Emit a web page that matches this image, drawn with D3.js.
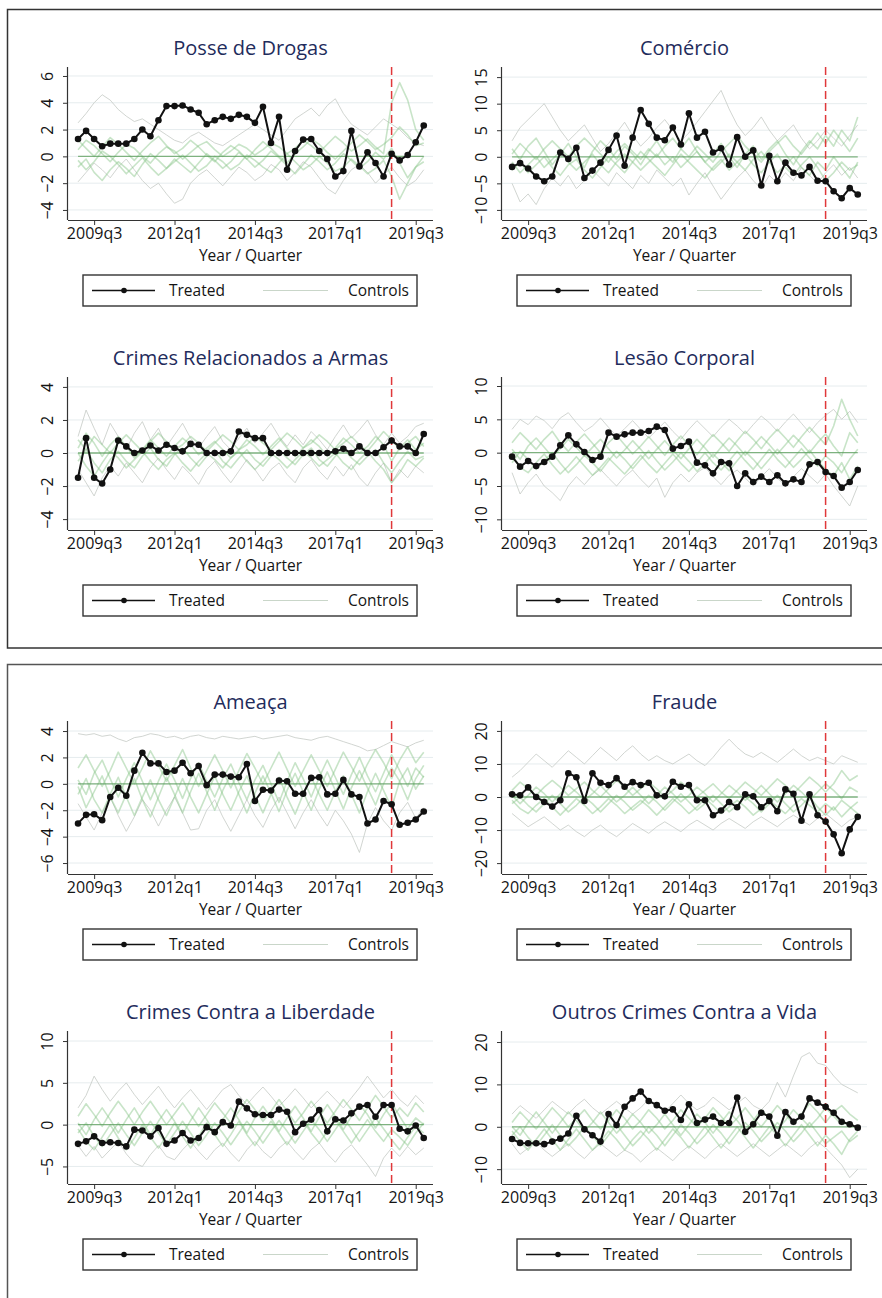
<!DOCTYPE html>
<html>
<head>
<meta charset="utf-8">
<script src="https://cdn.jsdelivr.net/npm/d3@7/dist/d3.min.js"></script>
<style>
  body { margin: 0; background: #fff; }
  svg { display: block; }
</style>
</head>
<body>
<script>
// quarters on the x axis
const quarters = [
  '2009q1','2009q2','2009q3','2009q4','2010q1','2010q2','2010q3','2010q4',
  '2011q1','2011q2','2011q3','2011q4','2012q1','2012q2','2012q3','2012q4',
  '2013q1','2013q2','2013q3','2013q4','2014q1','2014q2','2014q3','2014q4',
  '2015q1','2015q2','2015q3','2015q4','2016q1','2016q2','2016q3','2016q4',
  '2017q1','2017q2','2017q3','2017q4','2018q1','2018q2','2018q3','2018q4',
  '2019q1','2019q2','2019q3','2019q4'
];
const xTickLabels = ['2009q3', '2012q1', '2014q3', '2017q1', '2019q3'];
const treatmentQuarter = '2018q4';

const panelTitles = [
  'Posse de Drogas', 'Comércio',
  'Crimes Relacionados a Armas', 'Lesão Corporal',
  'Ameaça', 'Fraude',
  'Crimes Contra a Liberdade', 'Outros Crimes Contra a Vida'
];
const yTickValues = [
  [-4, -2, 0, 2, 4, 6], [-10, -5, 0, 5, 10, 15],
  [-4, -2, 0, 2, 4], [-10, -5, 0, 5, 10],
  [-6, -4, -2, 0, 2, 4], [-20, -10, 0, 10, 20],
  [-5, 0, 5, 10], [-10, 0, 10, 20]
];
const yDomains = [
  [-4.75, 6.67], [-11.9, 16.9],
  [-4.66, 4.6], [-11.6, 11.35],
  [-6.83, 4.76], [-23.3, 23],
  [-7.1, 11.2], [-13.5, 22.6]
];

// treated series
const treatedPosse = [1.3,1.9,1.3,0.75,0.95,0.95,0.95,1.3,2.0,1.5,2.7,3.75,3.75,3.8,3.5,3.25,2.4,2.7,2.95,2.8,3.1,2.95,2.5,3.7,1.0,2.95,-1.0,0.4,1.25,1.3,0.4,-0.2,-1.5,-1.1,1.9,-0.75,0.3,-0.5,-1.5,0.2,-0.3,0.1,1.05,2.3];
const treatedComercio = [-1.9,-1.2,-2.2,-3.7,-4.6,-3.7,0.8,-0.4,1.7,-4.0,-2.6,-1.1,1.3,4.0,-1.7,3.6,8.8,6.2,3.6,3.1,5.5,2.3,8.2,3.6,4.7,0.8,1.6,-1.5,3.7,0.0,1.2,-5.4,0.2,-4.6,-1.1,-3.0,-3.5,-1.9,-4.5,-4.6,-6.5,-7.8,-5.9,-7.1];
const treatedArmas = [-1.5,0.9,-1.5,-1.85,-1.0,0.75,0.4,0.0,0.15,0.45,0.15,0.5,0.3,0.1,0.55,0.5,0.0,0.0,0.0,0.1,1.3,1.1,0.9,0.9,0,0,0,0,0,0,0,0,0.1,0.25,0.0,0.4,0.0,0.0,0.35,0.75,0.4,0.4,0.0,1.15];
const treatedLesao = [-0.6,-2.1,-1.25,-2.0,-1.4,-0.6,1.1,2.6,1.25,0.1,-1.1,-0.6,3.0,2.4,2.75,3.0,3.0,3.25,3.9,3.4,0.6,1.0,1.65,-1.5,-1.9,-3.1,-1.4,-1.6,-5.0,-3.1,-4.4,-3.6,-4.4,-3.4,-4.6,-4.0,-4.4,-1.75,-1.4,-2.9,-3.5,-5.25,-4.4,-2.6];
const treatedAmeaca = [-3.0,-2.35,-2.3,-2.75,-1.0,-0.3,-0.9,1.0,2.35,1.55,1.55,0.9,1.0,1.6,0.8,1.35,-0.1,0.7,0.7,0.55,0.5,1.5,-1.3,-0.45,-0.5,0.25,0.2,-0.75,-0.75,0.45,0.5,-0.8,-0.75,0.3,-0.8,-1.0,-3.0,-2.7,-1.3,-1.55,-3.1,-2.95,-2.7,-2.1];
const treatedFraude = [0.8,0.5,2.9,0.0,-1.5,-2.9,-1.0,7.2,6.0,-1.2,7.2,4.3,3.6,5.7,3.1,4.5,3.6,4.3,0.5,0.2,4.6,3.1,3.6,-1.0,-1.0,-5.5,-4.1,-1.5,-3.1,0.8,0.2,-3.1,-1.2,-4.3,2.3,1.0,-7.2,0.8,-5.5,-7.4,-11.3,-17.0,-9.8,-6.0];
const treatedLiberdade = [-2.3,-2.0,-1.4,-2.2,-2.1,-2.2,-2.6,-0.6,-0.7,-1.4,-0.4,-2.3,-1.9,-1.0,-1.9,-1.6,-0.3,-0.9,0.3,-0.1,2.75,1.95,1.25,1.15,1.15,1.8,1.55,-0.9,0.1,0.6,1.75,-0.8,0.65,0.5,1.35,2.15,2.35,0.95,2.35,2.35,-0.5,-0.8,-0.1,-1.6];
const treatedVida = [-2.9,-3.8,-3.9,-3.9,-4.1,-3.5,-2.8,-1.6,2.6,-0.6,-2.0,-3.5,3.0,0.4,4.7,6.7,8.3,6.1,5.1,3.8,4.1,1.6,5.3,0.9,1.7,2.4,0.9,0.9,6.9,-1.2,0.6,3.3,2.4,-2.1,3.5,1.2,2.4,6.7,5.7,4.7,3.3,1.2,0.6,-0.2];

// control units (first two of each panel are drawn grey)
const controlsPosse = [
  [2.5,3.2,4.0,4.6,4.2,3.5,3.0,2.6,2.8,2.4,2.0,1.6,1.2,1.0,1.5,1.8,1.4,1.0,0.8,1.2,1.6,2.0,2.4,2.0,1.6,1.2,2.0,2.8,3.2,3.6,3.0,3.8,4.3,3.2,2.4,2.0,1.6,2.2,2.8,2.4,2.0,1.4,1.0,0.8],
  [-1.9,-1.2,-0.5,-1.0,-1.6,-0.8,-0.2,-1.0,-1.8,-2.4,-2.0,-2.8,-3.5,-3.2,-2.0,-1.4,-1.0,-1.6,-2.2,-1.5,-0.8,-1.2,-1.8,-1.4,-0.6,-1.0,-1.8,-1.2,-0.4,-0.8,-1.6,-2.4,-2.8,-1.8,-1.0,-0.6,-1.2,-2.0,-1.4,-0.8,-1.6,-2.2,-1.8,-1.0],
  [0.5,1.2,0.8,0.2,-0.4,0.3,0.9,0.6,0.0,-0.5,0.2,0.7,0.4,-0.2,0.3,0.8,1.1,0.5,0.0,0.4,0.9,0.6,0.1,0.5,1.0,0.7,0.2,0.6,1.2,0.8,0.3,0.9,1.5,1.0,0.4,0.8,1.3,0.7,0.2,4.0,5.5,4.2,2.0,1.2],
  [-0.8,-0.2,-1.2,-1.8,-1.0,-0.4,-0.9,-1.5,-0.6,0.2,-0.3,-0.9,-0.4,0.1,-0.5,-1.1,-0.7,0.0,-0.4,-1.0,-0.6,0.1,-0.3,-0.8,-1.2,-0.5,0.2,-0.4,-1.0,-0.6,0.0,-0.5,-1.1,-0.8,-0.2,-0.7,-1.3,-0.9,-0.3,-1.5,-3.2,-2.0,-0.8,-0.4],
  [1.2,0.6,0.0,0.7,1.4,0.9,0.3,-0.3,0.4,1.0,1.5,0.8,0.2,0.6,1.2,0.7,0.1,-0.4,0.3,0.8,0.4,-0.2,0.5,1.1,0.6,0.0,-0.5,0.2,0.7,1.3,0.9,0.3,-0.2,0.4,1.0,1.6,1.1,0.5,0.9,1.4,2.2,1.6,0.8,1.0],
  [-0.3,-1.0,-0.4,0.4,0.0,-0.6,-1.3,-0.7,-0.1,-0.8,-1.4,-0.9,-0.2,-0.7,-1.2,-0.5,0.2,-0.3,-0.9,-0.4,0.3,-0.2,-0.8,-0.3,0.4,-0.1,-0.7,-1.3,-0.6,0.1,-0.4,-1.0,-0.5,0.2,-0.3,-0.9,-0.4,0.3,-0.2,0.6,-0.5,-1.6,-0.8,0.0]
];
const controlsComercio = [
  [3.0,5.5,7.0,8.5,10.0,7.5,5.0,3.0,4.5,6.0,3.5,1.0,2.5,4.5,6.5,4.0,2.0,3.5,5.5,7.0,5.0,3.0,4.5,6.5,8.5,10.5,12.5,9.0,6.0,4.0,5.5,7.5,5.0,3.0,4.5,6.0,3.5,1.5,3.0,5.0,3.5,2.0,4.0,6.0],
  [-5.0,-8.5,-7.0,-9.0,-6.0,-4.0,-5.5,-3.5,-6.0,-4.5,-2.5,-4.0,-5.5,-3.0,-4.5,-6.0,-3.5,-5.0,-2.5,-4.0,-5.5,-4.0,-7.2,-5.0,-3.0,-5.5,-8.0,-6.0,-4.0,-2.5,-4.5,-6.0,-3.5,-5.0,-3.0,-4.5,-2.0,-3.5,-5.0,-3.0,-1.5,-3.5,-2.0,-4.0],
  [1.5,-0.5,2.0,3.5,1.0,-1.5,0.5,2.5,0.0,-2.0,1.0,3.0,1.5,-0.5,2.0,0.5,-1.5,1.0,3.0,0.5,-1.0,1.5,3.5,1.0,-1.0,0.5,2.5,0.0,-2.0,0.5,2.0,-0.5,1.5,3.0,0.5,-1.5,1.0,3.0,1.5,4.0,2.0,5.0,3.0,7.5],
  [-2.5,-1.0,-3.0,-1.5,0.0,-2.0,-3.5,-1.5,-0.5,-2.5,-4.0,-2.0,0.0,-1.5,-3.0,-1.0,1.0,-0.5,-2.0,-3.5,-1.5,0.5,-1.0,-2.5,-4.0,-2.0,-0.5,-2.5,-1.0,0.5,-1.5,-3.0,-1.0,0.5,-2.0,-3.5,-1.5,0.0,-2.0,-4.5,-3.0,-1.0,-2.5,-1.5],
  [0.5,2.5,1.0,-0.5,1.5,3.0,1.5,0.0,2.0,3.5,2.0,0.5,-1.0,1.0,2.5,1.0,-0.5,1.5,0.0,2.0,3.5,1.5,0.0,2.0,0.5,-1.0,1.0,2.5,4.0,2.0,0.5,-1.0,1.0,2.5,4.0,2.0,0.5,2.5,4.5,2.5,5.0,3.0,1.0,3.5],
  [-1.0,-3.0,-1.5,0.0,-2.0,-0.5,1.0,-1.0,-2.5,-1.0,0.5,-1.5,-3.0,-1.0,0.5,-1.0,-2.5,-1.0,0.5,-1.5,0.0,-2.0,-0.5,1.0,-1.0,-2.5,-1.0,0.5,-1.0,-2.5,-0.5,1.0,-1.0,-3.0,-1.5,0.0,-2.0,-3.5,-1.0,-2.5,0.0,-2.0,-4.0,-1.0]
];
const controlsArmas = [
  [1.0,2.6,1.5,0.5,1.8,1.0,0.2,1.2,1.9,0.8,1.5,0.4,1.1,1.8,0.9,0.3,1.0,1.6,0.7,0.2,0.9,1.5,0.6,1.2,1.8,1.0,0.4,1.1,0.5,1.3,0.8,0.2,1.0,1.7,0.9,1.4,2.0,1.1,0.5,1.2,0.6,1.0,1.6,1.8],
  [-1.0,-1.8,-2.6,-1.5,-0.8,-1.4,-0.6,-1.2,-1.8,-0.9,-0.3,-1.0,-1.6,-0.8,-1.3,-1.9,-1.0,-0.5,-1.2,-1.8,-1.1,-0.4,-1.0,-1.7,-1.0,-0.6,-1.3,-1.8,-0.9,-0.4,-1.1,-1.6,-0.8,-1.4,-0.7,-1.5,-2.0,-1.2,-0.6,-1.8,-1.0,-1.5,-0.8,-1.2],
  [0.3,1.2,0.6,-0.2,0.5,1.0,0.4,-0.3,0.2,0.8,0.3,-0.2,0.4,0.9,0.5,-0.1,0.3,0.7,0.2,-0.3,0.2,0.8,0.4,-0.1,0.4,0.9,0.3,-0.2,0.3,0.8,0.4,-0.2,0.3,0.9,0.5,0.0,0.4,1.0,0.5,-0.5,0.3,0.8,0.2,0.6],
  [-0.5,0.2,-0.6,-1.2,-0.4,0.1,-0.5,-0.9,-0.2,0.3,-0.4,-0.8,-0.1,0.3,-0.3,-0.8,-0.2,0.2,-0.5,-0.9,-0.3,0.2,-0.4,-0.8,-0.2,0.2,-0.3,-0.7,-0.1,0.3,-0.4,-0.8,-0.2,0.3,-0.3,-0.7,-0.2,0.2,-0.6,-1.2,-0.5,0.1,-0.4,-0.2],
  [0.8,0.2,1.0,0.5,0.0,0.6,1.1,0.6,0.1,0.7,1.2,0.7,0.2,0.5,1.0,0.6,0.1,0.6,1.1,0.7,0.2,0.5,1.0,0.6,0.2,0.7,1.2,0.8,0.3,0.6,1.1,0.7,0.2,0.6,1.0,0.5,0.1,0.7,1.3,0.8,0.2,0.6,1.0,0.4],
  [0.0,-0.8,-1.4,-0.6,0.1,-0.3,-0.9,-0.4,0.1,-0.5,-1.0,-0.4,0.0,-0.6,-1.1,-0.5,0.0,-0.4,-0.9,-0.3,0.1,-0.5,-1.0,-0.5,0.0,-0.4,-0.9,-0.4,0.1,-0.3,-0.8,-0.4,0.0,-0.6,-1.0,-0.4,0.1,-0.5,-1.0,-1.8,-1.2,-0.4,-0.8,-0.3]
];
const controlsLesao = [
  [3.5,5.0,4.2,5.5,4.8,3.6,5.2,6.0,4.5,3.2,4.0,5.2,3.8,2.5,3.6,4.8,3.5,2.2,3.4,4.6,3.2,2.0,3.5,4.8,3.6,2.4,3.8,5.0,4.0,2.8,4.2,5.5,4.5,3.2,4.6,5.8,4.4,3.0,4.5,5.6,6.5,5.0,6.2,4.5],
  [-3.0,-6.2,-4.5,-3.2,-5.0,-6.0,-7.2,-5.0,-3.6,-4.8,-3.4,-2.5,-3.8,-5.0,-3.6,-2.6,-4.0,-5.2,-3.8,-6.7,-4.5,-3.2,-4.4,-3.0,-2.2,-3.6,-4.8,-3.4,-2.6,-3.8,-5.0,-3.6,-2.4,-3.8,-5.0,-3.6,-2.4,-3.5,-4.6,-3.2,-5.0,-6.5,-8.0,-5.0],
  [1.5,3.0,1.8,0.5,2.0,3.2,1.5,0.2,1.6,2.8,1.4,0.0,1.5,2.6,1.2,-0.2,1.0,2.4,1.0,-0.4,1.2,2.5,1.1,-0.3,1.3,2.7,1.5,0.2,1.8,3.2,2.0,0.6,2.2,3.5,2.2,0.8,2.4,3.8,2.5,1.2,4.0,8.0,5.0,2.5],
  [-1.5,0.2,-1.0,-2.5,-1.2,0.0,-1.6,-3.0,-1.8,-0.4,-1.5,-2.8,-1.2,0.2,-1.0,-2.4,-1.0,0.3,-1.2,-2.6,-1.4,0.0,-1.3,-2.8,-1.6,-0.2,-1.4,-2.7,-1.2,0.2,-1.0,-2.4,-1.0,0.5,-0.8,-2.2,-1.0,0.4,-1.2,-2.5,-3.5,-1.5,-4.0,-2.0],
  [0.5,-1.0,1.0,2.2,0.8,-0.6,0.6,2.0,0.8,-0.5,0.8,2.0,0.6,-0.8,0.4,1.8,0.5,-0.9,0.5,1.8,0.4,-0.9,0.6,2.0,0.7,-0.7,0.8,2.2,1.0,-0.4,1.0,2.4,1.2,-0.2,1.2,2.6,1.4,0.0,1.5,2.8,1.0,-0.5,3.0,1.5],
  [-0.5,-2.2,-3.0,-1.5,-0.2,-1.8,-3.2,-2.0,-0.6,-2.0,-3.4,-2.2,-0.8,-2.0,-3.2,-1.8,-0.4,-1.8,-3.0,-1.6,-0.2,-1.6,-2.8,-1.5,0.0,-1.5,-2.6,-1.2,0.2,-1.2,-2.5,-1.0,0.5,-1.0,-2.2,-0.8,0.6,-0.8,-2.0,-0.5,-1.5,-3.0,-1.0,0.5]
];
const controlsAmeaca = [
  [3.8,3.7,3.8,3.6,3.7,3.4,3.2,3.5,3.6,3.8,3.7,3.5,3.6,3.4,3.6,3.7,3.5,3.4,3.6,3.5,3.4,3.5,3.6,3.4,3.5,3.6,3.7,3.5,3.4,3.3,3.5,3.6,3.4,3.2,3.0,2.8,2.5,2.6,2.9,3.2,3.0,2.8,3.1,3.3],
  [-1.5,-2.5,-3.5,-2.2,-1.0,-2.4,-3.6,-2.5,-1.2,-2.0,-3.2,-2.0,-1.0,-2.2,-3.5,-3.4,-2.0,-1.2,-2.5,-3.6,-2.4,-1.2,-2.4,-3.3,-2.0,-1.0,-2.2,-3.4,-2.2,-1.2,-2.3,-3.2,-2.0,-2.8,-3.8,-5.2,-3.0,-1.8,-2.8,-3.5,-2.2,-1.4,-2.6,-1.8],
  [1.2,2.2,1.0,-0.2,1.0,2.4,1.2,0.0,1.2,2.5,1.4,0.2,1.4,2.6,1.2,-0.2,1.0,2.2,1.0,-0.3,1.0,2.3,1.2,0.0,1.2,2.4,1.1,-0.2,1.0,2.2,1.0,-0.2,1.1,2.4,1.3,0.2,1.5,2.6,1.6,0.4,1.8,2.8,1.6,2.4],
  [-0.8,0.4,-1.2,-2.2,-0.8,0.5,-1.0,-2.4,-1.0,0.3,-1.2,-2.4,-1.0,0.4,-1.0,-2.2,-0.8,0.6,-0.8,-2.0,-0.6,0.6,-0.9,-2.2,-0.8,0.5,-1.0,-2.3,-0.8,0.5,-0.8,-2.0,-0.6,0.6,-0.8,-2.2,-0.6,0.8,-0.5,-1.8,0.2,1.2,-0.4,0.6],
  [0.3,-0.8,0.8,1.8,0.4,-1.0,0.4,1.6,0.2,-1.2,0.2,1.5,0.3,-1.1,0.4,1.6,0.2,-1.0,0.4,1.5,0.1,-1.2,0.3,1.4,0.0,-1.4,0.2,1.6,0.4,-1.0,0.5,1.8,0.5,-0.8,0.7,2.0,0.6,-0.6,0.8,2.2,1.0,-0.2,1.2,0.5],
  [-0.2,-1.8,-0.6,0.6,-1.0,-2.2,-0.8,0.4,-1.2,-2.5,-1.0,0.5,-0.8,-2.2,-0.6,0.8,-0.6,-2.0,-0.5,0.7,-0.8,-2.2,-0.7,0.6,-0.7,-2.1,-0.5,0.8,-0.6,-2.0,-0.4,0.9,-0.5,-1.9,-0.3,1.0,-0.3,-1.6,0.0,1.2,0.2,-1.2,0.4,1.4]
];
const controlsFraude = [
  [6.0,8.0,10.5,13.0,11.0,9.0,11.5,14.0,12.0,10.0,12.5,15.0,13.0,11.0,13.5,15.5,13.0,11.0,12.5,11.0,10.0,11.5,13.0,11.0,9.5,12.0,15.0,17.5,15.0,13.0,12.0,13.5,12.0,10.5,12.5,14.5,12.5,11.0,12.0,11.0,10.0,12.5,11.5,10.5],
  [-5.0,-7.0,-9.0,-7.5,-6.0,-8.0,-10.0,-8.5,-10.5,-12.0,-10.0,-8.5,-10.5,-12.0,-10.0,-8.0,-9.5,-11.0,-9.0,-7.5,-9.0,-10.5,-8.5,-7.0,-8.5,-10.0,-8.0,-6.5,-8.0,-9.5,-7.5,-6.0,-7.5,-9.0,-7.0,-5.5,-7.0,-8.5,-6.5,-5.0,-7.0,-9.0,-7.0,-6.0],
  [2.0,4.5,2.5,0.5,3.0,5.0,3.0,0.5,2.5,4.5,2.0,0.0,2.5,5.0,3.0,0.5,2.5,4.5,2.5,0.0,2.0,4.5,2.5,0.0,2.0,4.0,1.5,-0.5,2.0,4.5,2.5,0.5,3.0,5.5,3.5,1.0,3.5,6.0,4.0,1.5,4.0,8.0,5.0,6.5],
  [-2.0,0.0,-2.5,-4.5,-2.0,0.5,-2.0,-4.5,-2.5,0.0,-2.0,-4.5,-2.0,0.5,-1.5,-4.0,-2.0,0.5,-1.5,-4.0,-1.5,1.0,-1.5,-4.0,-2.0,0.5,-2.0,-4.5,-2.5,0.0,-2.0,-4.5,-2.0,0.5,-2.0,-4.5,-2.5,0.0,-3.0,-5.5,-3.0,-6.0,-3.5,-1.5],
  [0.5,-2.0,0.5,3.0,1.0,-1.5,1.0,3.5,1.5,-1.0,1.0,3.5,1.0,-1.5,0.5,3.0,0.5,-2.0,0.5,3.0,1.0,-1.5,0.5,3.0,1.0,-1.5,1.0,3.5,1.5,-1.0,1.0,3.5,1.0,-1.5,1.0,3.5,1.5,-1.0,1.5,4.0,2.0,-0.5,3.0,1.5],
  [-1.0,-3.5,-5.0,-2.5,-0.5,-3.0,-5.5,-3.0,-0.5,-2.5,-5.0,-3.0,-0.5,-2.5,-5.0,-3.0,-1.0,-3.0,-5.5,-3.0,-0.5,-2.5,-5.0,-3.0,-0.5,-2.5,-5.0,-3.0,-1.0,-3.0,-5.5,-3.5,-1.0,-3.0,-5.0,-2.5,-0.5,-2.5,-4.5,-2.0,-4.0,-1.0,-3.0,-5.0]
];
const controlsLiberdade = [
  [2.0,3.5,5.8,4.2,2.8,4.0,5.0,3.6,2.4,3.5,4.6,3.2,2.0,3.2,4.2,3.0,1.8,3.0,4.2,4.8,3.5,2.4,3.5,4.5,3.4,2.2,3.2,4.3,3.2,2.0,3.0,4.0,3.0,2.0,3.2,4.4,5.8,4.5,3.2,4.2,3.0,2.2,3.5,2.5],
  [-2.5,-3.8,-2.6,-4.0,-3.0,-2.0,-3.5,-4.6,-5.0,-3.6,-2.5,-3.8,-4.2,-3.0,-2.0,-3.2,-4.2,-3.0,-2.2,-3.4,-4.4,-3.0,-2.0,-3.2,-4.0,-2.8,-2.0,-3.2,-4.2,-3.0,-2.2,-3.5,-4.5,-3.2,-2.4,-3.6,-4.8,-6.2,-4.0,-2.8,-3.8,-2.6,-3.6,-2.8],
  [1.0,2.5,1.2,-0.2,1.4,2.8,1.5,0.0,1.5,2.8,1.4,0.0,1.3,2.6,1.2,-0.2,1.2,2.6,1.4,0.2,1.6,3.0,1.8,0.4,1.6,3.0,1.6,0.2,1.4,2.8,1.5,0.2,1.6,3.0,1.8,0.5,2.0,3.5,2.2,0.8,2.0,1.0,2.6,1.5],
  [-1.0,0.2,-1.4,-2.6,-1.2,0.2,-1.2,-2.5,-1.0,0.4,-1.0,-2.4,-1.0,0.4,-1.0,-2.5,-1.2,0.2,-1.0,-2.4,-1.0,0.4,-0.8,-2.2,-0.8,0.5,-0.8,-2.2,-0.8,0.6,-0.6,-2.0,-0.6,0.8,-0.5,-2.0,-0.6,0.8,-0.5,-1.8,-3.0,-1.5,-0.2,-1.0],
  [0.2,-1.2,0.6,2.0,0.6,-1.0,0.6,2.0,0.4,-1.2,0.4,1.8,0.4,-1.2,0.5,2.0,0.6,-1.0,0.6,2.0,0.6,-1.0,0.8,2.2,0.8,-0.8,0.8,2.2,0.8,-0.8,0.9,2.4,1.0,-0.6,1.0,2.4,1.2,-0.4,1.2,2.6,1.0,-0.5,0.8,0.0],
  [-0.5,-2.0,-3.0,-1.5,0.0,-1.6,-3.0,-1.6,0.0,-1.5,-2.8,-1.4,0.2,-1.4,-2.8,-1.4,0.2,-1.2,-2.6,-1.2,0.4,-1.2,-2.5,-1.0,0.4,-1.0,-2.4,-1.0,0.5,-1.0,-2.2,-0.8,0.6,-0.8,-2.2,-0.8,0.6,-0.8,-2.0,-0.6,-1.5,-2.5,-1.0,0.2]
];
const controlsVida = [
  [3.0,5.0,3.5,2.0,4.0,6.0,4.5,3.0,5.0,6.5,4.5,3.0,4.5,6.0,4.5,3.0,4.5,6.5,5.0,3.5,5.5,7.5,5.5,4.0,5.0,7.0,5.5,4.0,5.5,7.0,5.0,4.0,6.0,10.5,7.0,12.0,16.5,17.5,15.0,14.5,12.0,10.0,9.0,8.0],
  [-4.0,-6.5,-5.0,-3.5,-5.5,-7.0,-5.5,-4.0,-6.0,-7.5,-5.5,-4.0,-5.5,-7.0,-5.5,-6.5,-8.3,-6.5,-5.0,-6.5,-8.0,-6.0,-4.5,-6.0,-7.5,-5.5,-4.0,-5.5,-7.0,-5.5,-4.0,-5.5,-7.0,-5.5,-4.0,-5.5,-7.0,-5.0,-3.5,-5.0,-7.0,-9.0,-12.0,-10.0],
  [1.0,3.5,1.5,-0.5,2.0,4.5,2.5,0.0,2.0,4.0,1.5,-0.5,1.5,4.0,2.0,-0.5,1.5,4.0,2.0,-0.5,1.5,4.0,2.0,0.0,2.0,4.5,2.5,0.0,2.0,4.5,2.0,0.0,2.5,5.0,3.0,0.5,3.0,5.5,3.5,1.0,3.5,5.0,3.0,1.5],
  [-2.0,0.0,-2.5,-4.5,-2.0,0.5,-2.0,-4.5,-2.5,0.0,-2.0,-4.5,-2.0,0.5,-2.0,-4.5,-2.5,0.0,-2.0,-4.5,-2.0,0.5,-1.5,-4.0,-2.0,0.5,-1.5,-4.0,-1.5,1.0,-1.0,-3.5,-1.5,1.0,-1.0,-3.5,-1.5,1.0,-1.5,-4.0,-2.5,-1.0,-3.5,-2.0],
  [0.0,-2.0,1.0,3.5,1.0,-1.5,1.0,3.5,1.5,-1.0,1.0,3.5,1.0,-1.5,0.5,3.0,1.0,-1.5,0.5,3.0,0.5,-2.0,0.5,3.0,1.0,-1.5,1.0,3.5,1.5,-1.0,1.5,4.0,2.0,-0.5,1.5,4.0,2.0,0.0,2.0,4.5,2.5,0.5,1.0,-0.5],
  [-1.0,-3.5,-5.5,-3.0,-0.5,-3.0,-5.5,-3.0,-0.5,-3.0,-5.5,-3.5,-1.0,-3.0,-5.5,-3.0,-1.0,-3.0,-5.5,-3.0,-0.5,-2.5,-5.0,-2.5,0.0,-2.5,-5.0,-2.5,0.0,-2.5,-5.0,-2.5,0.0,-2.0,-4.5,-2.0,0.5,-2.0,-4.5,-2.0,-4.0,-6.5,-3.0,-1.0]
];

const treatedSeries = [treatedPosse, treatedComercio, treatedArmas, treatedLesao,
  treatedAmeaca, treatedFraude, treatedLiberdade, treatedVida];
const controlSeries = [controlsPosse, controlsComercio, controlsArmas, controlsLesao,
  controlsAmeaca, controlsFraude, controlsLiberdade, controlsVida];

// ---- layout ----
const W = 882, H = 1298;
const colX = [68, 502];
const rowY = [67, 377, 721, 1031];
const plotW = 365, plotH = 153;
const FONT = "'Open Sans', 'Noto Sans', sans-serif";
const INK = '#141414';

const svg = d3.select('body').append('svg')
  .attr('width', W)
  .attr('height', H);

svg.append('rect').attr('width', W).attr('height', H).attr('fill', '#fff');

// the two outer frames (right side runs off the page)
svg.append('rect')
  .attr('x', 7.5).attr('y', 9.5)
  .attr('width', 900).attr('height', 638.5)
  .attr('fill', 'none').attr('stroke', '#333').attr('stroke-width', 1.5);
svg.append('rect')
  .attr('x', 7.5).attr('y', 664.5)
  .attr('width', 900).attr('height', 700)
  .attr('fill', 'none').attr('stroke', '#555').attr('stroke-width', 1.5);

const x = d3.scaleLinear()
  .domain([-1.25, 44.15])
  .range([0, plotW]);
const qx = q => x(quarters.indexOf(q));

panelTitles.forEach((title, p) => {
  const g = svg.append('g')
    .attr('transform', `translate(${colX[p % 2]},${rowY[Math.floor(p / 2)]})`);

  const y = d3.scaleLinear().domain(yDomains[p]).range([plotH, 0]);

  // grid lines
  g.append('g')
    .selectAll('line')
    .data(yTickValues[p])
    .join('line')
    .attr('x1', 0).attr('x2', plotW)
    .attr('y1', d => y(d)).attr('y2', d => y(d))
    .attr('stroke', '#e6ecee')
    .attr('stroke-width', 1);

  const line = d3.line()
    .x((d, i) => x(i))
    .y(d => y(d));

  // control units
  g.append('g')
    .selectAll('path')
    .data(controlSeries[p])
    .join('path')
    .attr('fill', 'none')
    .attr('stroke', (d, i) => i < 2 ? '#c6cac6' : '#86c486')
    .attr('stroke-opacity', (d, i) => i < 2 ? 0.8 : 0.45)
    .attr('stroke-width', (d, i) => i < 2 ? 1 : 1.6)
    .attr('stroke-linejoin', 'round')
    .attr('d', line);

  // zero reference
  g.append('line')
    .attr('x1', x(0)).attr('x2', x(quarters.length - 1))
    .attr('y1', y(0)).attr('y2', y(0))
    .attr('stroke', '#5a9e5a')
    .attr('stroke-opacity', 0.75)
    .attr('stroke-width', 1.3);

  // treatment date
  g.append('line')
    .attr('x1', qx(treatmentQuarter)).attr('x2', qx(treatmentQuarter))
    .attr('y1', 0).attr('y2', plotH)
    .attr('stroke', '#e0383a')
    .attr('stroke-width', 1.5)
    .attr('stroke-dasharray', '8,4');

  // treated unit
  g.append('path')
    .datum(treatedSeries[p])
    .attr('fill', 'none')
    .attr('stroke', '#111')
    .attr('stroke-width', 2)
    .attr('stroke-linejoin', 'round')
    .attr('d', line);

  g.append('g')
    .selectAll('circle')
    .data(treatedSeries[p])
    .join('circle')
    .attr('cx', (d, i) => x(i))
    .attr('cy', d => y(d))
    .attr('r', 3.3)
    .attr('fill', '#111');

  // axes
  const xAxis = d3.axisBottom(x)
    .tickValues(xTickLabels.map(q => quarters.indexOf(q)))
    .tickFormat(i => quarters[i])
    .tickSize(5)
    .tickPadding(3);
  g.append('g')
    .attr('transform', `translate(0,${plotH})`)
    .call(xAxis)
    .call(a => a.select('.domain').attr('stroke', '#333').attr('stroke-width', 1.2).attr('d', `M0,0.5H${plotW}`))
    .call(a => a.selectAll('.tick line').attr('stroke', '#333'))
    .call(a => a.selectAll('.tick text')
      .attr('fill', INK)
      .style('font-family', FONT)
      .style('font-size', '16px'));

  const yAxis = d3.axisLeft(y)
    .tickValues(yTickValues[p])
    .tickFormat(d3.format('d'))
    .tickSize(5);
  g.append('g')
    .call(yAxis)
    .call(a => a.select('.domain').attr('stroke', '#333').attr('stroke-width', 1.2).attr('d', `M-0.5,0V${plotH}`))
    .call(a => a.selectAll('.tick line').attr('stroke', '#333'))
    .call(a => a.selectAll('.tick text')
      .attr('fill', INK)
      .attr('x', null).attr('dy', null)
      .attr('transform', 'translate(-21,0) rotate(-90)')
      .attr('text-anchor', 'middle')
      .attr('dominant-baseline', 'central')
      .style('font-family', FONT)
      .style('font-size', '16px'));

  // panel title
  g.append('text')
    .attr('x', plotW / 2)
    .attr('y', -12)
    .attr('text-anchor', 'middle')
    .attr('fill', '#1f2c5c')
    .style('font-family', FONT)
    .style('font-size', '20px')
    .text(title);

  g.append('text')
    .attr('x', plotW / 2)
    .attr('y', plotH + 41)
    .attr('text-anchor', 'middle')
    .attr('fill', INK)
    .style('font-family', FONT)
    .style('font-size', '15.5px')
    .text('Year / Quarter');

  // legend
  const lg = g.append('g').attr('transform', `translate(15,${plotH + 55})`);
  lg.append('rect')
    .attr('width', 334).attr('height', 31)
    .attr('fill', '#fff').attr('stroke', '#333').attr('stroke-width', 1.4);
  lg.append('line')
    .attr('x1', 9).attr('x2', 72).attr('y1', 15.5).attr('y2', 15.5)
    .attr('stroke', '#111').attr('stroke-width', 1.6);
  lg.append('circle').attr('cx', 41).attr('cy', 15.5).attr('r', 2.8).attr('fill', '#111');
  lg.append('text')
    .attr('x', 86).attr('y', 21)
    .attr('fill', INK)
    .style('font-family', FONT).style('font-size', '15.5px')
    .text('Treated');
  lg.append('line')
    .attr('x1', 180).attr('x2', 245).attr('y1', 15.5).attr('y2', 15.5)
    .attr('stroke', '#c9d6c9').attr('stroke-width', 1);
  lg.append('text')
    .attr('x', 326).attr('y', 21)
    .attr('text-anchor', 'end')
    .attr('fill', INK)
    .style('font-family', FONT).style('font-size', '15.5px')
    .text('Controls');
});
</script>
</body>
</html>
